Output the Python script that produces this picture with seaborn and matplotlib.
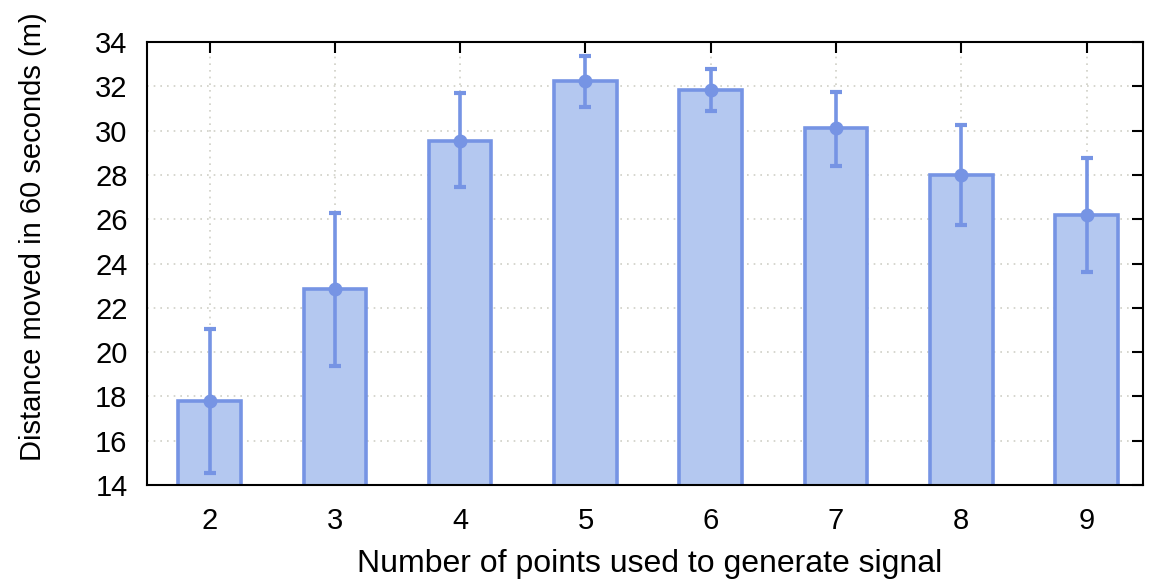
import numpy as np
import pandas as pd
import seaborn as sns
import matplotlib
matplotlib.use("Agg")
import matplotlib.pyplot as plt

# 数据
points = [2, 3, 4, 5, 6, 7, 8, 9]
distance = [17.8, 22.83, 29.55, 32.24, 31.83, 30.1, 28.0, 26.17]
err_low = [14.55, 19.37, 27.44, 31.05, 30.9, 28.42, 25.75, 23.63]
err_high = [21.04, 26.27, 31.68, 33.38, 32.77, 31.76, 30.25, 28.75]

df = pd.DataFrame({"points": points, "distance": distance})

sns.set_style("white")
plt.rcParams['font.family'] = ['Liberation Sans', 'DejaVu Sans']

fill_c = "#b4c8f0"
edge_c = "#7694e4"

fig = plt.figure(figsize=(11.51, 5.88), dpi=100)
ax = fig.add_axes([0.1277, 0.175, 0.8653, 0.7536])

sns.barplot(data=df, x="points", y="distance", native_scale=True, width=0.5,
            color=fill_c, edgecolor=edge_c, linewidth=2.6, saturation=1,
            errorbar=None, ax=ax, zorder=2)

# 误差线
d = np.array(distance)
yerr = np.vstack([d - np.array(err_low), np.array(err_high) - d])
ax.errorbar(points, distance, yerr=yerr, fmt="o", color=edge_c, markersize=9,
            elinewidth=2.6, capsize=4, capthick=3, zorder=3)

ax.set_xlim(1.5, 9.45)
ax.set_ylim(14, 34)
ax.set_xticks(points)
ax.set_yticks(np.arange(14, 35, 2))
ax.grid(True, linestyle=(0, (1, 3)), color="#cfcfc6", linewidth=1.2, zorder=0)
ax.set_axisbelow(True)

ax.tick_params(direction="in", length=8, width=1.5, top=True, right=True,
               labelsize=21, colors="black")
ax.tick_params(axis="x", pad=16)
ax.tick_params(axis="y", pad=14)
for s in ax.spines.values():
    s.set_color("black")
    s.set_linewidth(1.5)

ax.set_xlabel("Number of points used to generate signal", fontsize=23, color="black")
ax.set_ylabel("Distance moved in 60 seconds (m)", fontsize=21, color="black")
ax.xaxis.set_label_coords(0.505, -0.145)
ax.yaxis.set_label_coords(-0.100, 0.56)

fig.savefig("out.png", dpi=100)
